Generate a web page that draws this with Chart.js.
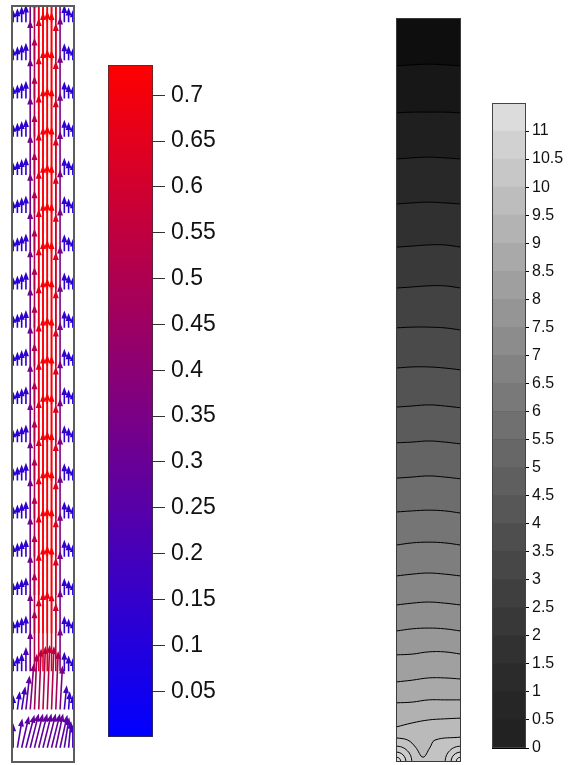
<!DOCTYPE html>
<html>
<head>
<meta charset="utf-8">
<script src="https://cdn.jsdelivr.net/npm/chart.js@4.4.0/dist/chart.umd.min.js"></script>
<style>
body{margin:0;background:#fff;}
#wrap{position:relative;width:572px;height:765px;overflow:hidden;background:#fff;}
canvas{position:absolute;}
</style>
</head>
<body>
<div id="wrap">
<canvas id="quiver" width="64" height="758" style="left:11px;top:5px"></canvas>
<canvas id="cbSpeed" width="150" height="700" style="left:100px;top:55px"></canvas>
<canvas id="contour" width="65" height="744" style="left:396px;top:18px"></canvas>
<canvas id="cbPress" width="87" height="665" style="left:485px;top:95px"></canvas>
</div>
<script>
Chart.defaults.font.family = "'Liberation Sans', Arial, sans-serif";
Chart.defaults.color = '#111';
Chart.defaults.animation = false;
Chart.defaults.plugins.legend.display = false;
Chart.defaults.plugins.tooltip.enabled = false;

/* velocity field: grid */
const qX = [0.5,1.5,2.5,3.5,4.5,5.5,6.5,7.5,8.5,9.5,10.5,11.5,12.5,13.5,14.5];
const qY = [0.4,1.4,2.4,3.4,4.4,5.4,6.4,7.4,8.4,9.4,10.4,11.4,12.4,13.4,14.4,15.4,16.4,17.4,18.4,19.4];

/* vertical / horizontal velocity per column */
const vInlet = [0.20,0.24,0.26,0.27,0.28,0.28,0.28,0.28,0.28,0.28,0.28,0.27,0.25,0.22,0.19];
const uInlet = [0.00,0.04,0.06,0.07,0.07,0.07,0.07,0.07,0.07,0.07,0.06,0.06,0.04,0.02,0.00];
const vRow1  = [0.12,0.15,0.19,0.28,0.38,0.46,0.50,0.52,0.53,0.52,0.48,0.36,0.20,0.15,0.12];
const uRow1  = [0.00,0.02,0.03,0.03,0.03,0.02,0.02,0.02,0.02,0.02,0.02,0.02,0.02,0.01,0.00];
const vRow2  = [0.11,0.13,0.15,0.20,0.33,0.50,0.60,0.65,0.66,0.64,0.56,0.36,0.16,0.13,0.11];
const vDev   = [0.10,0.115,0.13,0.145,0.33,0.50,0.66,0.71,0.72,0.71,0.62,0.36,0.14,0.12,0.10];

/* speed colorbar */
const cbMin = 0, cbMax = 0.733;
const cbTicks  = [0.05,0.1,0.15,0.2,0.25,0.3,0.35,0.4,0.45,0.5,0.55,0.6,0.65,0.7];
const cbLabels = ['0.05','0.1','0.15','0.2','0.25','0.3','0.35','0.4','0.45','0.5','0.55','0.6','0.65','0.7'];

/* pressure colorbar */
const pLevels = [0,0.5,1,1.5,2,2.5,3,3.5,4,4.5,5,5.5,6,6.5,7,7.5,8,8.5,9,9.5,10,10.5,11,11.5];
const pLabels = ['0','0.5','1','1.5','2','2.5','3','3.5','4','4.5','5','5.5','6','6.5','7','7.5','8','8.5','9','9.5','10','10.5','11'];

/* pressure contours (height units, bottom = 0) */
const cX = [0,0.25,0.5,0.75,1];
const cLines = [
 [18.71,18.74,18.76,18.74,18.71],
 [17.45,17.47,17.47,17.47,17.45],
 [16.21,16.24,16.26,16.24,16.21],
 [15.00,15.03,15.05,15.03,15.00],
 [13.84,13.87,13.90,13.90,13.84],
 [12.74,12.77,12.80,12.80,12.74],
 [11.67,11.69,11.69,11.67,11.61],
 [10.59,10.62,10.62,10.59,10.54],
 [9.54,9.57,9.60,9.57,9.52],
 [8.58,8.60,8.63,8.60,8.55],
 [7.63,7.66,7.69,7.66,7.61],
 [6.72,6.75,6.77,6.75,6.69],
 [5.83,5.89,5.91,5.89,5.83],
 [5.00,5.05,5.08,5.05,5.00],
 [4.22,4.27,4.30,4.27,4.22],
 [3.52,3.58,3.60,3.58,3.52],
 [2.88,2.90,2.96,2.96,2.90],
 [2.15,2.20,2.26,2.26,2.23],
 [1.59,1.61,1.67,1.67,1.67],
 [0.94,1.05,1.13,1.16,1.18]
];
const vLineX = [0,0.18,0.30,0.415,0.52,0.60,1];
const vLineY = [0.65,0.59,0.40,0.13,0.38,0.59,0.67];
const arcsL = [
 [{x:0,y:0.134},{x:0.054,y:0.095},{x:0.077,y:0}],
 [{x:0,y:0.269},{x:0.059,y:0.248},{x:0.109,y:0.19},{x:0.142,y:0.103},{x:0.154,y:0}],
 [{x:0,y:0.43},{x:0.094,y:0.397},{x:0.174,y:0.304},{x:0.227,y:0.165},{x:0.246,y:0}]
];
const arcsR = [
 [{x:0.923,y:0},{x:0.946,y:0.095},{x:1,y:0.134}],
 [{x:0.846,y:0},{x:0.858,y:0.103},{x:0.891,y:0.19},{x:0.941,y:0.248},{x:1,y:0.269}],
 [{x:0.754,y:0},{x:0.773,y:0.165},{x:0.826,y:0.304},{x:0.906,y:0.397},{x:1,y:0.43}]
];

const ARROW_PX = 122;

function speedColor(m){
  let t = (m - cbMin)/(cbMax - cbMin);
  t = Math.max(0, Math.min(1, t));
  return 'rgb(' + Math.round(255*t) + ',0,' + Math.round(255*(1-t)) + ')';
}
function grey(g){ g = Math.round(Math.min(255,g)); return 'rgb('+g+','+g+','+g+')'; }
function pressGrey(i){ return grey(34 + 186*Math.pow(i/22, 1.25)); }
function contourGrey(i){ return grey(14 + 8.6*i); }

/* QUIVER */

let arrows = [];
qY.forEach(function(yy,k){
  let vv = k==0 ? vInlet : k==1 ? vRow1 : k==2 ? vRow2 : vDev;
  let uu = k==0 ? uInlet : k==1 ? uRow1 : null;
  qX.forEach(function(xx,i){
    arrows.push({x:xx, y:yy, u: uu ? uu[i] : 0, v: vv[i]});
  });
});

const quiverPlugin = {
  id:'quiverArrows',
  afterDatasetsDraw(chart){
    const ctx = chart.ctx, a = chart.chartArea;
    const xs = chart.scales.x, ys = chart.scales.y;
    ctx.save();
    ctx.beginPath();
    ctx.rect(a.left, a.top, a.width, a.height);
    ctx.clip();
    chart.data.datasets[0].data.forEach(function(p){
      let x0 = xs.getPixelForValue(p.x), y0 = ys.getPixelForValue(p.y);
      let dx = p.u*ARROW_PX, dy = -p.v*ARROW_PX;
      let len = Math.hypot(dx,dy);
      if(len < 0.5) return;
      let ux = dx/len, uy = dy/len, nx = -uy, ny = ux;
      let hl = Math.min(8, len*0.6), hw = 3, sw = 0.8;
      let bx = x0 + ux*(len-hl), by = y0 + uy*(len-hl);
      ctx.fillStyle = speedColor(Math.hypot(p.u,p.v));
      ctx.beginPath();
      ctx.moveTo(x0 + nx*sw, y0 + ny*sw);
      ctx.lineTo(bx + nx*sw, by + ny*sw);
      ctx.lineTo(bx + nx*hw, by + ny*hw);
      ctx.lineTo(x0 + dx, y0 + dy);
      ctx.lineTo(bx - nx*hw, by - ny*hw);
      ctx.lineTo(bx - nx*sw, by - ny*sw);
      ctx.lineTo(x0 - nx*sw, y0 - ny*sw);
      ctx.closePath();
      ctx.fill();
    });
    ctx.restore();
    ctx.save();
    ctx.strokeStyle = '#5c5c5c';
    ctx.lineWidth = 2;
    ctx.strokeRect(a.left+1, a.top+1, a.width-2, a.height-2);
    ctx.restore();
  }
};

new Chart(document.getElementById('quiver'),{
  type:'scatter',
  data:{datasets:[{data:arrows, pointRadius:0}]},
  options:{
    responsive:false,
    layout:{padding:0},
    scales:{
      x:{type:'linear', min:0, max:15, display:false},
      y:{type:'linear', min:0, max:19.85, display:false}
    }
  },
  plugins:[quiverPlugin]
});

/* SPEED COLORBAR */

new Chart(document.getElementById('cbSpeed'),{
  type:'bar',
  data:{
    labels:['speed'],
    datasets:[{
      data:[[cbMin, cbMax]],
      backgroundColor:function(c){
        const ch = c.chart;
        if(!ch.chartArea) return speedColor(cbMax/2);
        const ys = ch.scales.y;
        const g = ch.ctx.createLinearGradient(0, ys.getPixelForValue(cbMin), 0, ys.getPixelForValue(cbMax));
        g.addColorStop(0, speedColor(cbMin));
        g.addColorStop(1, speedColor(cbMax));
        return g;
      },
      borderColor:'#333',
      borderWidth:1,
      borderSkipped:false,
      barPercentage:1,
      categoryPercentage:1
    }]
  },
  options:{
    responsive:false,
    layout:{padding:{left:8, top:10, bottom:18, right:0}},
    scales:{
      x:{display:false},
      y:{
        position:'right', min:cbMin, max:cbMax,
        afterBuildTicks:function(s){ s.ticks = cbTicks.map(v => ({value:v})); },
        afterFit:function(s){ s.width = 97; s.paddingTop = 0; s.paddingBottom = 0; },
        grid:{drawOnChartArea:false, drawTicks:true, tickLength:12, color:'#333'},
        border:{display:false},
        ticks:{
          font:{size:23}, color:'#111', padding:6, autoSkip:false,
          callback:function(v){ let i = cbTicks.indexOf(v); return i >= 0 ? cbLabels[i] : ''; }
        }
      }
    }
  }
});

/* PRESSURE CONTOURS */

let contourSets = [];
function lineSet(pts, col){
  return {data:pts, fill:'start', backgroundColor:col, borderColor:'#000', borderWidth:1,
          pointRadius:0, tension:0.4};
}
// index 0 is drawn last, so inner corner arcs come first
for(let r = 0; r < arcsL.length; r++){
  contourSets.push(lineSet(arcsL[r], contourGrey(24 - r)));
  contourSets.push(lineSet(arcsR[r], contourGrey(24 - r)));
}
contourSets.push(lineSet(vLineX.map((x,i) => ({x:x, y:vLineY[i]})), contourGrey(21)));
for(let k = cLines.length - 1; k >= 0; k--){
  contourSets.push(lineSet(cX.map((x,i) => ({x:x, y:cLines[k][i]})), contourGrey(k+1)));
}
contourSets.push({data:[{x:0,y:20},{x:1,y:20}], fill:'start', backgroundColor:contourGrey(0),
                  borderWidth:0, pointRadius:0});

const framePlugin = {
  id:'frame',
  afterDraw(chart, args, opts){
    const a = chart.chartArea, ctx = chart.ctx;
    ctx.save();
    ctx.strokeStyle = opts.color || '#333';
    ctx.lineWidth = 1;
    ctx.strokeRect(a.left+0.5, a.top+0.5, a.width-1, a.height-1);
    ctx.restore();
  }
};

new Chart(document.getElementById('contour'),{
  type:'line',
  data:{datasets:contourSets},
  options:{
    responsive:false,
    layout:{padding:0},
    scales:{
      x:{type:'linear', min:0, max:1, display:false},
      y:{type:'linear', min:0, max:20, display:false}
    },
    plugins:{frame:{color:'#3a3a3a'}}
  },
  plugins:[framePlugin]
});

/* PRESSURE COLORBAR */

let pressSets = [];
for(let i = 0; i < pLevels.length - 1; i++){
  pressSets.push({
    data:[[pLevels[i], pLevels[i+1]]],
    backgroundColor:pressGrey(i),
    borderWidth:0,
    grouped:false,
    barPercentage:1,
    categoryPercentage:1
  });
}

new Chart(document.getElementById('cbPress'),{
  type:'bar',
  data:{labels:['p'], datasets:pressSets},
  options:{
    responsive:false,
    layout:{padding:{left:7, top:8, bottom:12, right:0}},
    scales:{
      x:{display:false},
      y:{
        position:'right', min:pLevels[0], max:pLevels[pLevels.length-1], z:1,
        afterBuildTicks:function(s){ s.ticks = pLabels.map((l,i) => ({value:pLevels[i]})); },
        afterFit:function(s){ s.width = 46; s.paddingTop = 0; s.paddingBottom = 0; },
        grid:{drawOnChartArea:true, drawTicks:true, tickLength:3, color:'#000', lineWidth:1},
        border:{display:false},
        ticks:{
          font:{size:16}, color:'#111', padding:3, autoSkip:false,
          callback:function(v){ let i = pLevels.indexOf(v); return i >= 0 && i < pLabels.length ? pLabels[i] : ''; }
        }
      }
    },
    plugins:{frame:{color:'#444'}}
  },
  plugins:[framePlugin]
});
</script>
</body>
</html>
